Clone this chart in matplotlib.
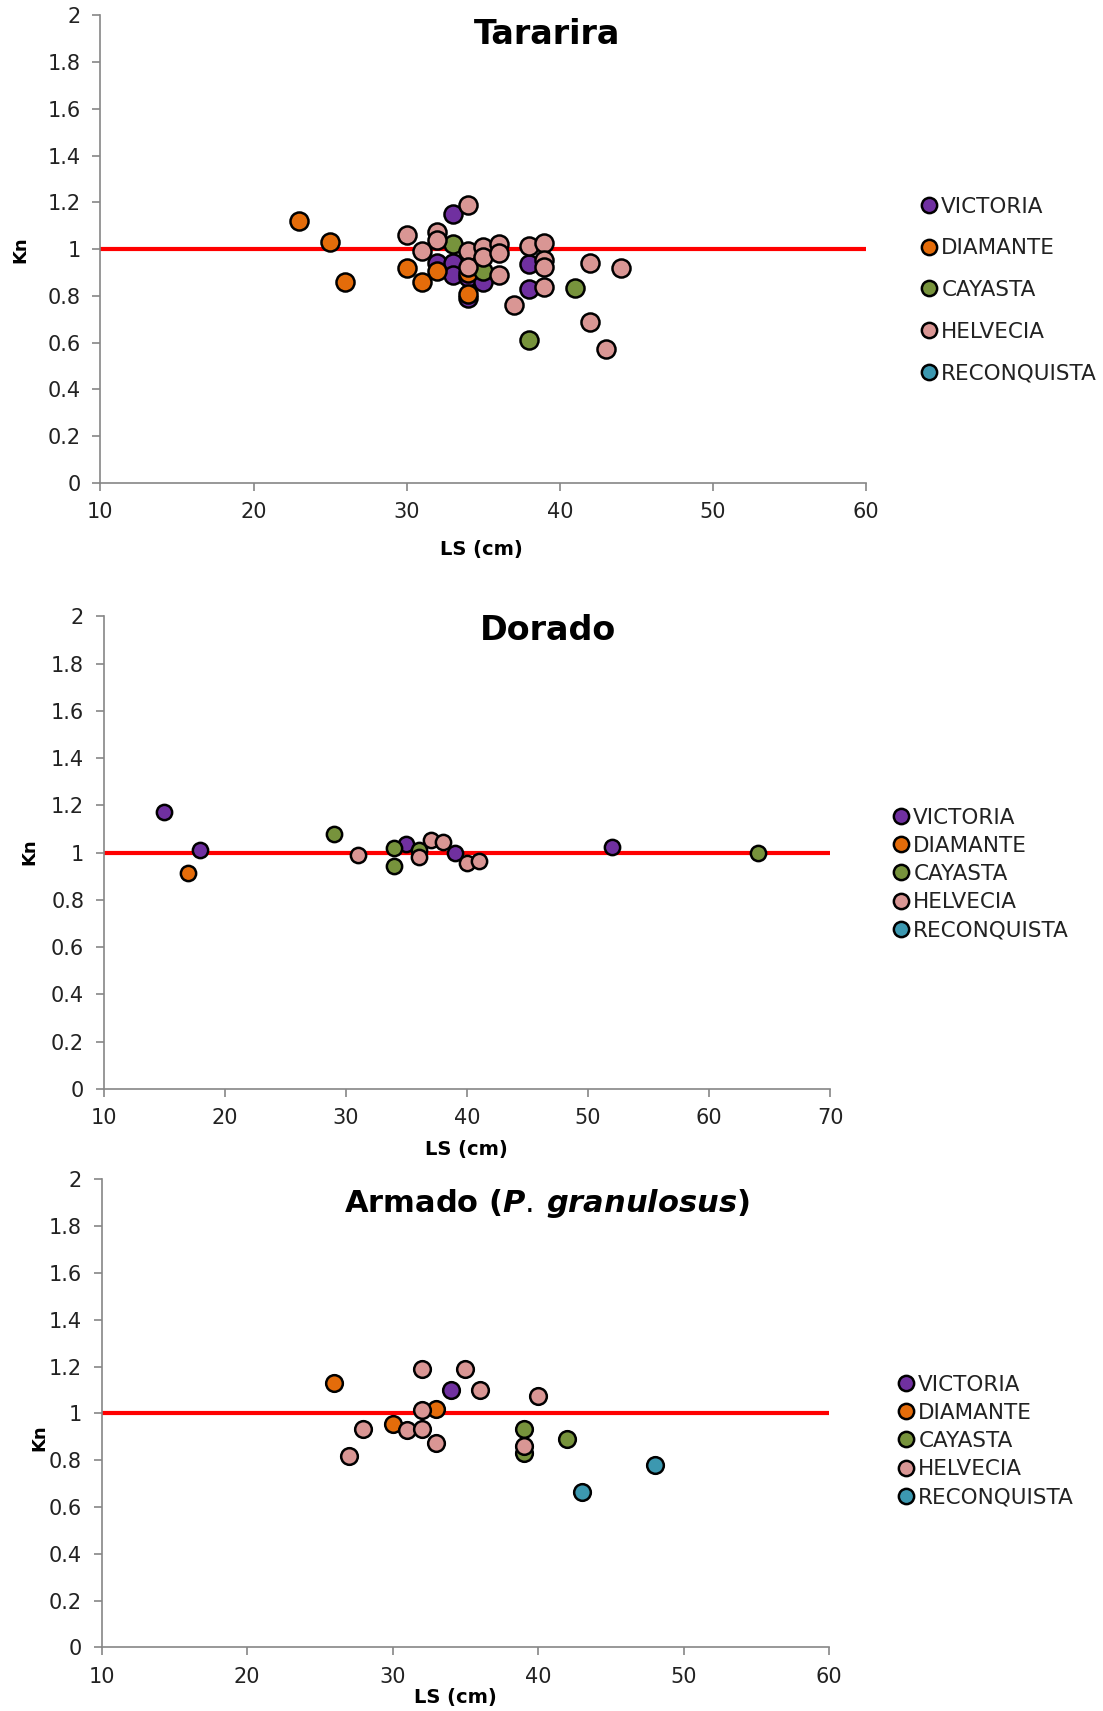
import matplotlib
matplotlib.use('Agg')
import matplotlib.pyplot as plt
from matplotlib.ticker import FuncFormatter, MultipleLocator

# Bold italic for the species name in the third title
plt.rcParams['mathtext.fontset'] = 'custom'
plt.rcParams['mathtext.it'] = 'DejaVu Sans:italic:bold'

# Condition factor (Kn) against standard length, by sampling site
SITES = ["VICTORIA", "DIAMANTE", "CAYASTA", "HELVECIA", "RECONQUISTA"]
COLORS = ["#7030A0", "#E46C0A", "#77933C", "#D99694", "#3C98B0"]

# Tararira
tar_victoria_ls = [33, 32, 33, 33, 34, 34, 35, 38, 38]
tar_victoria_kn = [1.15, 0.94, 0.94, 0.89, 0.88, 0.79, 0.86, 0.935, 0.83]
tar_diamante_ls = [23, 25, 26, 30, 31, 32, 34, 34]
tar_diamante_kn = [1.12, 1.03, 0.86, 0.92, 0.86, 0.905, 0.90, 0.81]
tar_cayasta_ls = [33, 35, 38, 41]
tar_cayasta_kn = [1.02, 0.905, 0.61, 0.835]
tar_helvecia_ls = [34, 30, 32, 32, 31, 34, 34, 35, 35, 36, 36, 36, 37,
                   38, 39, 39, 39, 39, 42, 42, 43, 44]
tar_helvecia_kn = [1.19, 1.06, 1.075, 1.04, 0.99, 0.99, 0.925, 1.01, 0.965,
                   1.02, 0.985, 0.89, 0.76, 1.015, 1.025, 0.955, 0.925,
                   0.84, 0.94, 0.69, 0.575, 0.92]
tar_reconquista_ls = []
tar_reconquista_kn = []

# Dorado
dor_victoria_ls = [15, 18, 35, 39, 52]
dor_victoria_kn = [1.17, 1.01, 1.035, 1.0, 1.025]
dor_diamante_ls = [17]
dor_diamante_kn = [0.915]
dor_cayasta_ls = [29, 34, 34, 36, 64]
dor_cayasta_kn = [1.08, 1.02, 0.945, 1.01, 1.0]
dor_helvecia_ls = [31, 36, 37, 38, 40, 41]
dor_helvecia_kn = [0.99, 0.98, 1.055, 1.045, 0.955, 0.965]
dor_reconquista_ls = []
dor_reconquista_kn = []

# Armado
arm_victoria_ls = [34]
arm_victoria_kn = [1.10]
arm_diamante_ls = [26, 30, 33]
arm_diamante_kn = [1.13, 0.955, 1.02]
arm_cayasta_ls = [39, 39, 42]
arm_cayasta_kn = [0.935, 0.83, 0.89]
arm_helvecia_ls = [27, 28, 31, 32, 32, 32, 33, 35, 36, 39, 40]
arm_helvecia_kn = [0.82, 0.935, 0.93, 1.19, 1.015, 0.935, 0.875, 1.19,
                   1.10, 0.86, 1.075]
arm_reconquista_ls = [43, 48]
arm_reconquista_kn = [0.665, 0.78]

W, H = 1103, 1711
AXIS_GRAY = "#868686"


def px_rect(left, top, right, bottom):
    return [left / W, 1 - bottom / H, (right - left) / W, (bottom - top) / H]


def fig_text(fig, x, y, s, **kw):
    fig.text(x / W, 1 - y / H, s, ha="center", va="center", **kw)


def draw_panel(fig, rect, series, xmax, msize, title, title_xy, title_size,
               kn_xy, ls_xy, legend_xy, legend_spacing):
    ax = fig.add_axes(px_rect(*rect))
    ax.axhline(1.0, color="#FF0000", lw=3, zorder=1)
    for (xs, ys), name, col in zip(series, SITES, COLORS):
        ax.plot(xs, ys, "o", ls="none", ms=msize, mfc=col, mec="black",
                mew=1.8, label=name, zorder=2, clip_on=False)

    ax.set_xlim(10, xmax)
    ax.set_ylim(0, 2)
    ax.xaxis.set_major_locator(MultipleLocator(10))
    ax.yaxis.set_major_locator(MultipleLocator(0.2))
    ax.yaxis.set_major_formatter(FuncFormatter(lambda v, p: "%g" % round(v, 1)))
    for side in ("top", "right"):
        ax.spines[side].set_visible(False)
    for side in ("left", "bottom"):
        ax.spines[side].set_color(AXIS_GRAY)
        ax.spines[side].set_linewidth(1.2)
    ax.tick_params(direction="out", length=6, width=1.2, color=AXIS_GRAY,
                   labelsize=15, pad=8, labelcolor="#222222")

    fig_text(fig, *title_xy, title, fontsize=title_size, fontweight="bold")
    fig_text(fig, *kn_xy, "Kn", fontsize=13, fontweight="bold", rotation=90)
    fig_text(fig, *ls_xy, "LS (cm)", fontsize=14, fontweight="bold")

    ax.legend(loc="center left", bbox_to_anchor=(legend_xy[0] / W, 1 - legend_xy[1] / H),
              bbox_transform=fig.transFigure, frameon=False, fontsize=15.5,
              markerscale=11 / msize, handlelength=0.6, handletextpad=0.25,
              labelspacing=legend_spacing, borderpad=0, borderaxespad=0,
              labelcolor="#222222")
    return ax


fig = plt.figure(figsize=(W / 100, H / 100), dpi=100)

draw_panel(fig, (100.4, 15.3, 866, 483),
           [(tar_victoria_ls, tar_victoria_kn), (tar_diamante_ls, tar_diamante_kn),
            (tar_cayasta_ls, tar_cayasta_kn), (tar_helvecia_ls, tar_helvecia_kn),
            (tar_reconquista_ls, tar_reconquista_kn)],
           60, 13, "Tararira", (547, 35), 24, (20, 250), (481, 549),
           (923, 290), 1.0)

draw_panel(fig, (103.6, 616.4, 830.3, 1088.8),
           [(dor_victoria_ls, dor_victoria_kn), (dor_diamante_ls, dor_diamante_kn),
            (dor_cayasta_ls, dor_cayasta_kn), (dor_helvecia_ls, dor_helvecia_kn),
            (dor_reconquista_ls, dor_reconquista_kn)],
           70, 11, "Dorado", (548, 631), 24, (29, 852), (466, 1149),
           (895, 874), 0.38)

draw_panel(fig, (101.5, 1179.4, 829.2, 1647.4),
           [(arm_victoria_ls, arm_victoria_kn), (arm_diamante_ls, arm_diamante_kn),
            (arm_cayasta_ls, arm_cayasta_kn), (arm_helvecia_ls, arm_helvecia_kn),
            (arm_reconquista_ls, arm_reconquista_kn)],
           60, 12, r"Armado ($\mathit{P.\,granulosus}$)", (547, 1203), 22,
           (39, 1438), (455, 1698), (900, 1441), 0.38)

fig.savefig("out.png", dpi=100)
